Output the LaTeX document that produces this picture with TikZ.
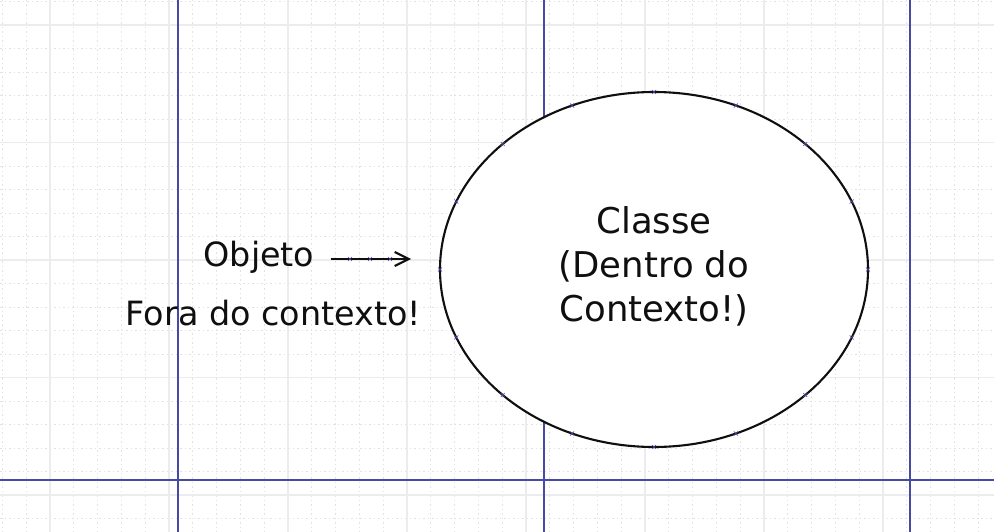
\documentclass[tikz,border=0pt]{standalone}
\usepackage{fontspec}
\setmainfont{DejaVu Sans}
\usetikzlibrary{arrows.meta,shapes.geometric,calc}
\definecolor{majorblue}{RGB}{72,72,165}
\definecolor{gridgrey}{RGB}{236,236,238}
\definecolor{dotgrey}{RGB}{226,226,230}
\definecolor{ink}{RGB}{15,15,15}
\tikzset{
  minorline/.style={dotgrey, line width=0.8pt, dash pattern=on 1.5pt off 3pt},
  gridline/.style={gridgrey, line width=1.2pt},
  bigline/.style={majorblue, line width=1.5pt},
  tick/.style={majorblue, line width=0.6pt},
  lefttext/.style={font=\fontsize{33.4}{40}\selectfont, text=ink, inner sep=0pt, anchor=base},
  classtext/.style={font=\fontsize{35.5}{44}\selectfont, text=ink, align=center, inner sep=0pt},
  classbox/.style={ellipse, draw=ink, fill=white, line width=2.1pt, minimum width=428pt, minimum height=355pt, inner sep=0pt},
  pointer/.style={ink, line width=2.1pt, -{Straight Barb[length=14pt,width=14pt,line width=2.1pt]}}
}
\begin{document}
\begin{tikzpicture}[x=1pt,y=-1pt]
\useasboundingbox (0,0) rectangle (994,532);
\fill[white] (0,0) rectangle (994,532);
% minor dotted grid
\foreach \i in {-2,...,40} \draw[minorline] ({50+23.8*\i},0) -- ({50+23.8*\i},532);
\foreach \j in {-1,...,22} \draw[minorline] (0,{25+23.5*\j}) -- (994,{25+23.5*\j});
% solid light grid
\foreach \i in {0,...,8} \draw[gridline] ({50+119*\i},0) -- ({50+119*\i},532);
\foreach \j in {0,...,4} \draw[gridline] (0,{25+117.5*\j}) -- (994,{25+117.5*\j});
% blue major lines
\foreach \x in {178,544,910} \draw[bigline] (\x,0) -- (\x,532);
\draw[bigline] (0,480) -- (994,480);
% ellipse
\node[classbox] (classe) at (654,269.5) {};
\foreach \a in {0,22.5,...,337.5}
  \draw[tick] ($(classe.center)+(\a:214 and 177.5)+(-2,-2)$) -- ++(4,4)
              ($(classe.center)+(\a:214 and 177.5)+(-2,2)$) -- ++(4,-4);
\node[classtext] (classetxt) at (654,266) {Classe\\(Dentro do\\Contexto!)};
% left texts
\node[lefttext] (objeto) at (259,266) {Objeto};
\node[lefttext] (fora) at (273.5,325) {Fora do contexto!};
\coordinate (alvo) at (411,259);
\draw[pointer] (objeto.east |- alvo) ++(16,0) coordinate (start) -- (alvo);
\foreach \x in {350,370,390}
  \draw[tick] (\x-2,257) -- (\x+2,261) (\x-2,261) -- (\x+2,257);
\end{tikzpicture}
\end{document}
